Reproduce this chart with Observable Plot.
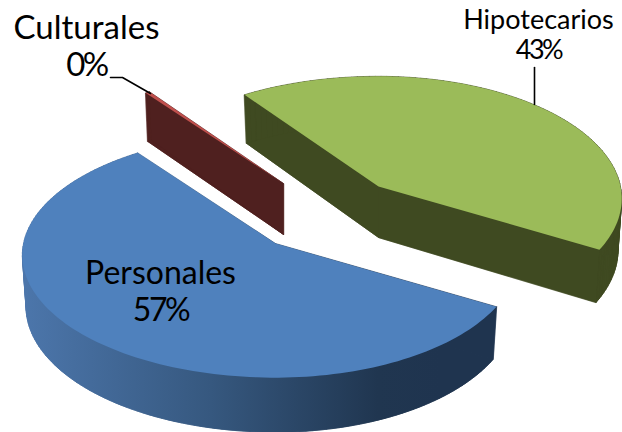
<!DOCTYPE html>
<html><head><meta charset="utf-8">
<style>html,body{margin:0;padding:0;background:#fff}svg{display:block}.pct text{letter-spacing:-2.5px}</style>
<script src="https://cdn.jsdelivr.net/npm/d3@7"></script>
<script src="https://cdn.jsdelivr.net/npm/@observablehq/plot@0.6"></script>
</head><body><div id="chart"></div>
<script>
// Data (clockwise from the start angle)
const categories = ["Hipotecarios", "Personales", "Culturales"];
const shares = [43.0, 56.7, 0.3];
const topColors = ["#9bbb59", "#4f81bd", "#c0504d"];
const sideColors = ["#3f4a21", "url(#blueSide)", "#4f201f"];

// 3D view of the pie
const W = 622, H = 432;
const view = {start: -35, rx: 247, ry: 121, k: 0.098, depth: 51, low: 0.985, ox: -5};
const explode = [[378, 186], [275, 243], [283, 183]];
const labelAt = [
  {x: 538, y1: 28, y2: 58, size: 27},
  {x: 160, y1: 283, y2: 320, size: 32},
  {x: 86, y1: 38, y2: 75, size: 33}
];

const rad = Math.PI / 180;
function rim(deg, scale = 1, drop = 0) {
  const u = Math.sin(deg * rad), v = -Math.cos(deg * rad), s = 1 / (1 - view.k * v);
  return [scale * view.rx * u * s + view.ox * Math.abs(u), scale * view.ry * v * s + drop * s];
}
const arcs = d3.pie().sort(null).value(d => d).startAngle(view.start * rad).endAngle((view.start + 360) * rad)(shares);

const tops = [], sides = [];
arcs.forEach((a, i) => {
  const [ax, ay] = explode[i];
  const a0 = a.startAngle / rad, a1 = a.endAngle / rad;
  const n = Math.max(2, Math.ceil((a1 - a0) / 1.5));
  const angles = d3.range(n + 1).map(j => a0 + (a1 - a0) * j / n);
  const topO = [[ax, ay], ...angles.map(t => { const p = rim(t); return [ax + p[0], ay + p[1]]; })];
  const lowO = [[ax, ay + view.depth], ...angles.map(t => { const p = rim(t, view.low, view.depth); return [ax + p[0], ay + p[1]]; })];
  topO.forEach(p => tops.push({id: i, x: p[0], y: p[1]}));
  lowO.forEach(p => sides.push({id: `${i}-low`, s: i, x: p[0], y: p[1]}));
  topO.forEach((p, j) => {
    const q = (j + 1) % topO.length;
    [p, topO[q], lowO[q], lowO[j]].forEach(c => sides.push({id: `${i}-${j}`, s: i, x: c[0], y: c[1]}));
  });
});

const nameLabels = categories.map((c, i) => ({text: c, x: labelAt[i].x, y: labelAt[i].y1, size: labelAt[i].size}));
const pctLabels = categories.map((c, i) => ({text: Math.round(shares[i]) + "%", x: labelAt[i].x, y: labelAt[i].y2, size: labelAt[i].size}));
const leaders = [
  [{x: 110, y: 77}, {x: 122, y: 77}, {x: 150, y: 93}],
  [{x: 534, y: 67}, {x: 534, y: 104}]
];

const marks = [];
[0, 1, 2].forEach(i => {
  const side = sides.filter(d => d.s === i);
  marks.push(Plot.line(side, {x: "x", y: "y", z: "id", fill: sideColors[i], stroke: sideColors[i], strokeWidth: 0.6, curve: "linear-closed"}));
  marks.push(Plot.line(tops.filter(d => d.id === i), {x: "x", y: "y", fill: topColors[i], stroke: "none", curve: "linear-closed"}));
});
leaders.forEach(l => marks.push(Plot.line(l, {x: "x", y: "y", stroke: "#000", strokeWidth: 1.6, curve: "linear"})));
nameLabels.forEach(d => marks.push(Plot.text([d], {x: "x", y: "y", text: "text", fontSize: d.size, fontFamily: "Lato", fill: "#000", textAnchor: "middle", lineAnchor: "bottom"})));
pctLabels.forEach(d => marks.push(Plot.text([d], {x: "x", y: "y", text: "text", fontSize: d.size, fontFamily: "Lato", fill: "#000", textAnchor: "middle", lineAnchor: "bottom", className: "pct"})));

const chart = Plot.plot({
  width: W, height: H, margin: 0,
  x: {domain: [0, W], range: [0, W], axis: null},
  y: {domain: [0, H], range: [0, H], axis: null},
  style: {background: "#fff"},
  marks
});
d3.select(chart).insert("defs", ":first-child").html(
  `<linearGradient id="blueSide" gradientUnits="userSpaceOnUse" x1="22" y1="0" x2="440" y2="0">
     <stop offset="0" stop-color="#4c76ab"/><stop offset="0.45" stop-color="#36587f"/>
     <stop offset="0.85" stop-color="#203650"/><stop offset="1" stop-color="#1f344f"/>
   </linearGradient>`);
document.getElementById("chart").appendChild(chart);
</script></body></html>
